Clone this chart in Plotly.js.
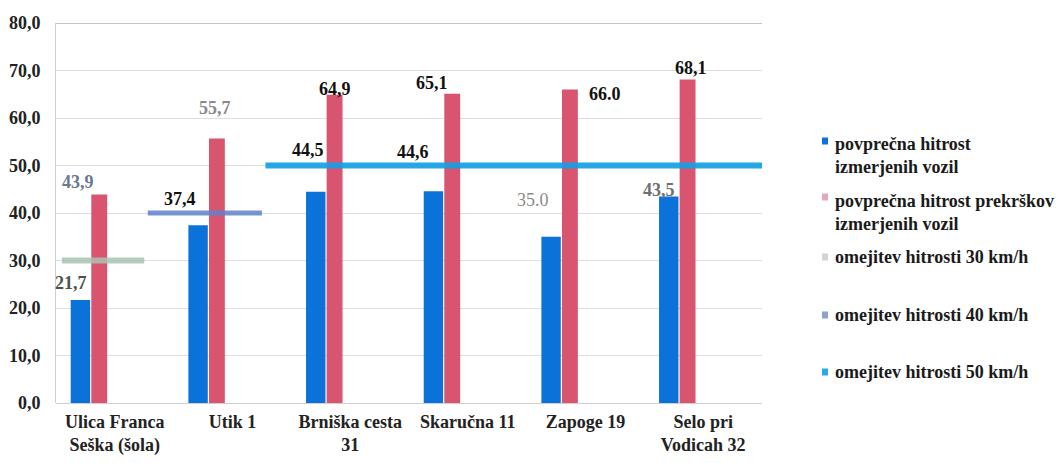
<!DOCTYPE html>
<html>
<head>
<meta charset="utf-8">
<script src="https://cdn.plot.ly/plotly-3.0.1.min.js"></script>
<style>html,body{margin:0;padding:0;background:#fff;}#chart{width:1058px;height:463px;}</style>
</head>
<body>
<div id="chart"></div>
<script>
// ---- data ----
const categories = ['Ulica Franca<br>Seška (šola)', 'Utik 1', 'Brniška cesta<br>31', 'Skaručna 11', 'Zapoge 19', 'Selo pri<br>Vodicah 32'];
const avgSpeed = [21.7, 37.4, 44.5, 44.6, 35.0, 43.5];
const avgViolationSpeed = [43.9, 55.7, 64.9, 65.1, 66.0, 68.1];
const avgSpeedLabels = ['21,7', '37,4', '44,5', '44,6', '35.0', '43,5'];
const avgViolationLabels = ['43,9', '55,7', '64,9', '65,1', '66.0', '68,1'];
const limitNames = ['omejitev hitrosti 30 km/h', 'omejitev hitrosti 40 km/h', 'omejitev hitrosti 50 km/h'];
const limitValues = [30, 40, 50];
const limitFirstCategory = [0, 1, 2];
const limitLastCategory = [0, 1, 5];
const seriesNames = ['povprečna hitrost<br>izmerjenih vozil', 'povprečna hitrost prekrškov<br>izmerjenih vozil'];
const yTicks = [0, 10, 20, 30, 40, 50, 60, 70, 80];

// ---- style ----
const FONT = '"Liberation Serif", "Times New Roman", serif';
const W = 1058, H = 463;
const M = {l: 56, r: 296, t: 23, b: 60};
const blueColor = '#0b72d9';
const redColor = '#d9556f';
const limitColors = ['rgba(170,195,180,0.85)', 'rgba(95,130,205,0.85)', 'rgba(20,160,228,0.92)'];
const limitWidths = [6, 5, 6];
const blueOffset = -0.375, blueWidth = 0.165;
const redOffset = -0.2, redWidth = 0.135;
// label nudges (px) and look, purely presentational
const blueDx = [-9, -18, -8, -20, -18, -10];
const blueDy = [17, 26, 42, 39, 37, 6];
const redDx = [-21, -2, 0, -20, 35, 3];
const redDy = [12, 30, 6, 11, -4, 12];
const blueLabelColor = ['#505050', '#111', '#111', '#111', '#8a8a8a', '#707070'];
const blueLabelBold = [true, true, true, true, false, true];
const redLabelColor = ['#6a7890', '#8a8a8a', '#111', '#111', '#111', '#111'];
const redLabelBold = [true, true, true, true, true, true];

const idx = categories.map((_, i) => i);
const traces = [];
traces.push({type: 'bar', x: categories, y: avgSpeed, name: 'avg', marker: {color: blueColor},
  offset: blueOffset, width: blueWidth, showlegend: false, hoverinfo: 'y'});
traces.push({type: 'bar', x: categories, y: avgViolationSpeed, name: 'viol', marker: {color: redColor},
  offset: redOffset, width: redWidth, showlegend: false, hoverinfo: 'y'});
limitValues.forEach((v, k) => {
  const x0 = Math.max(limitFirstCategory[k] - 0.72, -0.45);
  const x1 = limitLastCategory[k] === categories.length - 1 ? categories.length - 0.5 : limitLastCategory[k] + 0.25;
  traces.push({type: 'scatter', mode: 'lines', xaxis: 'x2', yaxis: 'y', x: [x0, x1], y: [v, v],
    line: {color: limitColors[k], width: limitWidths[k]}, showlegend: false, hoverinfo: 'skip'});
});

const annotations = [];
const bold = (s, b) => b ? '<b>' + s + '</b>' : s;
idx.forEach(i => {
  annotations.push({xref: 'x2', yref: 'y', x: i + blueOffset + blueWidth / 2, y: avgSpeed[i],
    text: bold(avgSpeedLabels[i], blueLabelBold[i]), showarrow: false, xanchor: 'center', yanchor: 'middle',
    xshift: blueDx[i], yshift: blueDy[i], font: {family: FONT, size: 18, color: blueLabelColor[i]}});
  annotations.push({xref: 'x2', yref: 'y', x: i + redOffset + redWidth / 2, y: avgViolationSpeed[i],
    text: bold(avgViolationLabels[i], redLabelBold[i]), showarrow: false, xanchor: 'center', yanchor: 'middle',
    xshift: redDx[i], yshift: redDy[i], font: {family: FONT, size: 18, color: redLabelColor[i]}});
});

// manual legend (pixel -> paper)
const pw = W - M.l - M.r, ph = H - M.t - M.b;
const px = x => (x - M.l) / pw;
const py = y => (H - M.b - y) / ph;
const legendNames = seriesNames.concat(limitNames);
const legendColors = [blueColor, '#e3a9b9', '#d4d4d4', '#8ea2cc', '#28a8e8'];
const legendMarkY = [141, 197, 257, 315, 372];
const legendTextY = [155, 212, 257, 315, 372];
const shapes = [];
shapes.push({type: 'line', xref: 'paper', yref: 'y', x0: 0, x1: 1, y0: 80, y1: 80, line: {color: '#b0b0b0', width: 1.5}});
legendNames.forEach((n, k) => {
  shapes.push({type: 'rect', xref: 'paper', yref: 'paper', x0: px(822), x1: px(828), y0: py(legendMarkY[k] + 3.5), y1: py(legendMarkY[k] - 3.5),
    fillcolor: legendColors[k], line: {width: 0}});
  annotations.push({xref: 'paper', yref: 'paper', x: px(833), y: py(legendTextY[k]), xanchor: 'left', yanchor: 'middle',
    align: 'left', showarrow: false, text: '<b>' + n + '</b>', font: {family: FONT, size: 18, color: '#1a1a1a'}});
});

const layout = {
  width: W, height: H, margin: M, paper_bgcolor: '#fff', plot_bgcolor: '#fff',
  barmode: 'overlay', showlegend: false, separators: ', ',
  font: {family: FONT, size: 18, color: '#222'},
  xaxis: {type: 'category', range: [-0.5, categories.length - 0.5], showgrid: false, zeroline: false,
    showline: false, ticks: '', tickfont: {family: FONT, size: 18, color: '#222', weight: 'bold'}, ticklabelstandoff: 6},
  xaxis2: {overlaying: 'x', range: [-0.5, categories.length - 0.5], visible: false},
  yaxis: {range: [0, 80], tickvals: yTicks, tickformat: '.1f', showgrid: true, gridcolor: '#dedede', gridwidth: 1,
    zeroline: true, zerolinecolor: '#d0d0d0', showline: true, linecolor: '#c9cfd9', linewidth: 1,
    ticks: '', ticklabelstandoff: 11, tickfont: {family: FONT, size: 18, color: '#222', weight: 'bold'}},
  shapes: shapes,
  annotations: annotations
};
Plotly.newPlot('chart', traces, layout, {displayModeBar: false, staticPlot: true});
</script>
</body>
</html>
